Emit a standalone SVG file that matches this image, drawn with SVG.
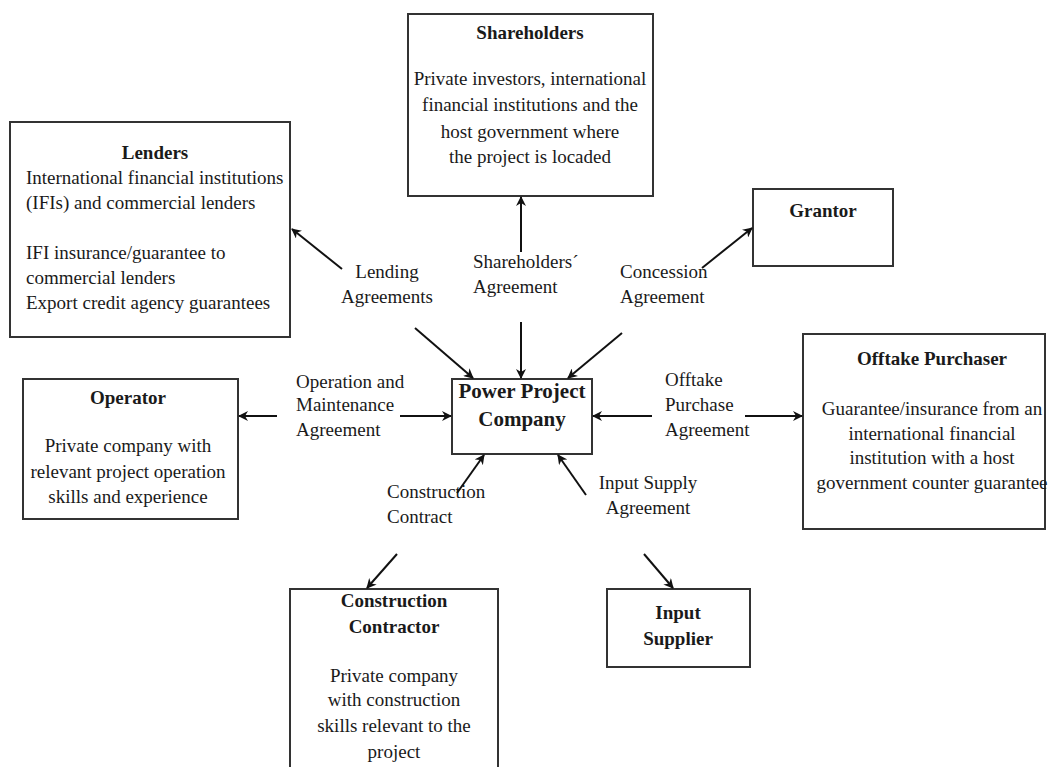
<svg xmlns="http://www.w3.org/2000/svg" width="1049" height="767" viewBox="0 0 1049 767">
<defs>
<marker id="ah" viewBox="0 0 10 10" refX="9" refY="5" markerWidth="5" markerHeight="5" orient="auto" markerUnits="strokeWidth">
<path d="M0,0 L10,5 L0,10 L3,5 z" fill="#111"/>
</marker>
<style>
.box{fill:#fff;stroke:#333;stroke-width:2}
.t{font-family:"Liberation Serif","Times New Roman",serif;font-size:19px;fill:#1a1a1a}
.b{font-weight:bold}
.c{text-anchor:middle}
.big{font-size:21px}
.ln{stroke:#111;stroke-width:2;fill:none;marker-end:url(#ah)}
</style>
</defs>
<rect width="1049" height="767" fill="#fff"/>

<g id="shareholders">
<rect class="box" x="408" y="14" width="245" height="182"/>
<text class="t b c" x="530" y="39">Shareholders</text>
<text class="t c" x="530" y="85">Private investors, international</text>
<text class="t c" x="530" y="111">financial institutions and the</text>
<text class="t c" x="530" y="138">host government where</text>
<text class="t c" x="530" y="163">the project is locaded</text>
</g>

<g id="lenders">
<rect class="box" x="10" y="122" width="280" height="215"/>
<text class="t b c" x="155" y="159">Lenders</text>
<text class="t" x="26" y="184">International financial institutions</text>
<text class="t" x="26" y="209">(IFIs) and commercial lenders</text>
<text class="t" x="26" y="259">IFI insurance/guarantee to</text>
<text class="t" x="26" y="284">commercial lenders</text>
<text class="t" x="26" y="309">Export credit agency guarantees</text>
</g>

<g id="grantor">
<rect class="box" x="753" y="189" width="140" height="77"/>
<text class="t b c" x="823" y="217">Grantor</text>
</g>

<g id="operator">
<rect class="box" x="23" y="379" width="215" height="140"/>
<text class="t b c" x="128" y="404">Operator</text>
<text class="t c" x="128" y="452">Private company with</text>
<text class="t c" x="128" y="478">relevant project operation</text>
<text class="t c" x="128" y="503">skills and experience</text>
</g>

<g id="company">
<rect class="box" x="452" y="379" width="140" height="75"/>
<text class="t b c big" x="522" y="398">Power Project</text>
<text class="t b c big" x="522" y="426">Company</text>
</g>

<g id="offtake">
<rect class="box" x="803" y="334" width="242" height="195"/>
<text class="t b c" x="932" y="365">Offtake Purchaser</text>
<text class="t c" x="932" y="415">Guarantee/insurance from an</text>
<text class="t c" x="932" y="440">international financial</text>
<text class="t c" x="932" y="464">institution with a host</text>
<text class="t c" x="932" y="489">government counter guarantee</text>
</g>

<g id="contractor">
<rect class="box" x="290" y="589" width="208" height="200"/>
<text class="t b c" x="394" y="607">Construction</text>
<text class="t b c" x="394" y="633">Contractor</text>
<text class="t c" x="394" y="682">Private company</text>
<text class="t c" x="394" y="706">with construction</text>
<text class="t c" x="394" y="732">skills relevant to the</text>
<text class="t c" x="394" y="758">project</text>
</g>

<g id="supplier">
<rect class="box" x="607" y="589" width="143" height="78"/>
<text class="t b c" x="678" y="619">Input</text>
<text class="t b c" x="678" y="645">Supplier</text>
</g>

<g id="labels">
<text class="t c" x="387" y="278">Lending</text>
<text class="t c" x="387" y="303">Agreements</text>
<text class="t" x="473" y="268">Shareholders´</text>
<text class="t" x="473" y="293">Agreement</text>
<text class="t" x="620" y="278">Concession</text>
<text class="t" x="620" y="303">Agreement</text>
<text class="t" x="296" y="388">Operation and</text>
<text class="t" x="296" y="411">Maintenance</text>
<text class="t" x="296" y="436">Agreement</text>
<text class="t" x="665" y="386">Offtake</text>
<text class="t" x="665" y="411">Purchase</text>
<text class="t" x="665" y="436">Agreement</text>
<text class="t" x="387" y="498">Construction</text>
<text class="t" x="387" y="523">Contract</text>
<text class="t c" x="648" y="489">Input Supply</text>
<text class="t c" x="648" y="514">Agreement</text>
</g>

<g id="connectors">
<line class="ln" x1="521" y1="252" x2="521" y2="197"/>
<line class="ln" x1="342" y1="269" x2="292" y2="229"/>
<line class="ln" x1="702" y1="268" x2="752" y2="228"/>
<line class="ln" x1="415" y1="328" x2="473" y2="378"/>
<line class="ln" x1="521" y1="322" x2="521" y2="378"/>
<line class="ln" x1="622" y1="333" x2="568" y2="378"/>
<line class="ln" x1="277" y1="416" x2="239" y2="416"/>
<line class="ln" x1="400" y1="416" x2="451" y2="416"/>
<line class="ln" x1="652" y1="416" x2="593" y2="416"/>
<line class="ln" x1="745" y1="416" x2="802" y2="416"/>
<line class="ln" x1="457" y1="493" x2="484" y2="455"/>
<line class="ln" x1="586" y1="495" x2="558" y2="455"/>
<line class="ln" x1="397" y1="554" x2="367" y2="588"/>
<line class="ln" x1="644" y1="554" x2="673" y2="588"/>
</g>
</svg>
